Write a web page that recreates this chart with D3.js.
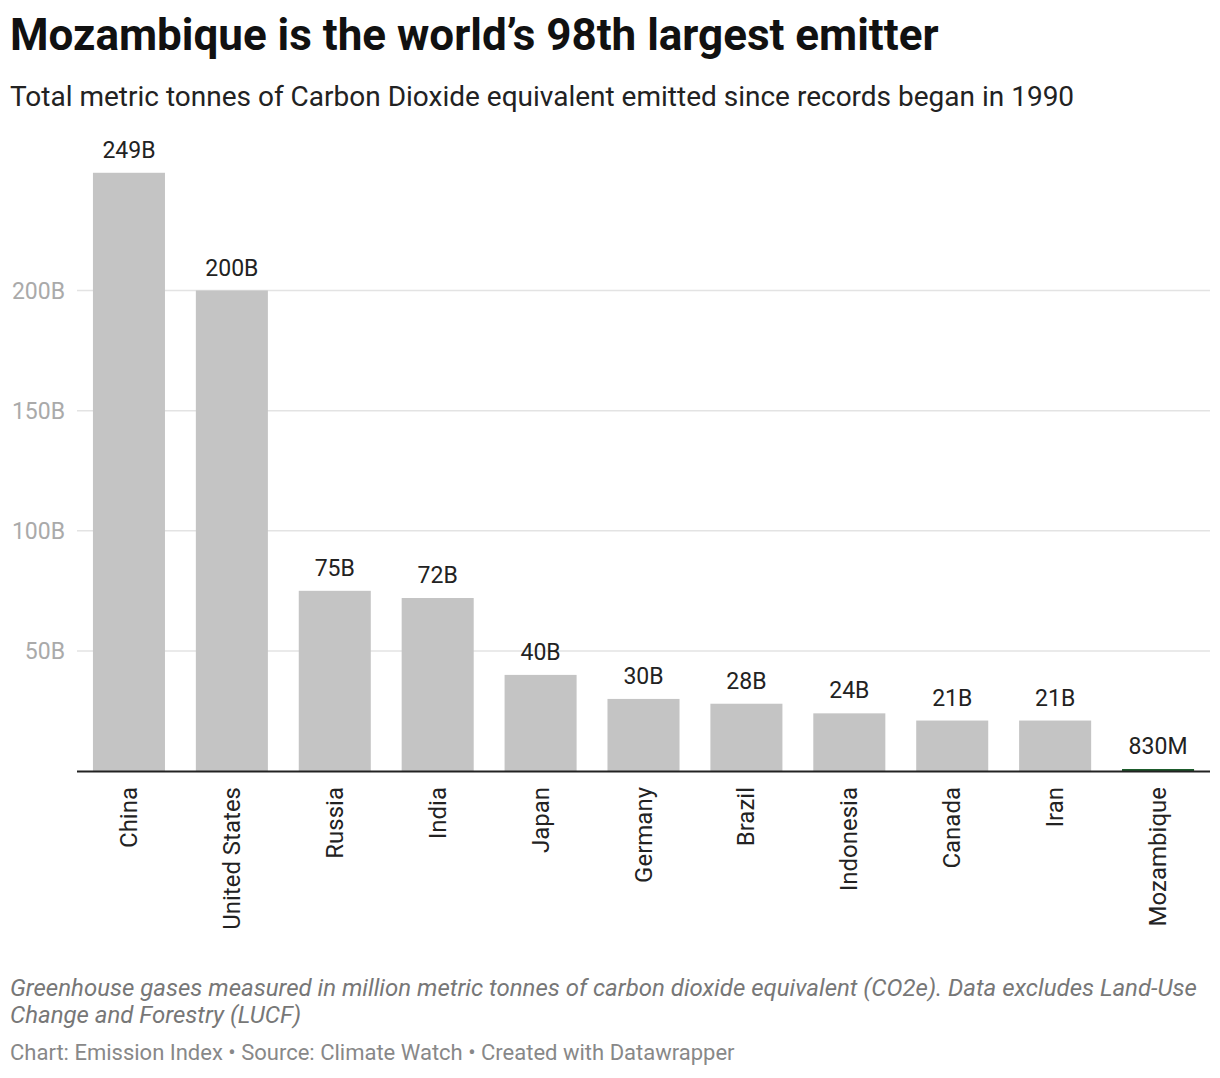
<!DOCTYPE html>
<html><head><meta charset="utf-8">
<script src="https://cdn.jsdelivr.net/npm/d3@7"></script>
<style>
body{margin:0;background:#fff;font-family:Roboto,"Noto Sans",sans-serif;}
</style></head><body>
<svg id="c" width="1220" height="1078"></svg>
<script>
const categories = ["China","United States","Russia","India","Japan","Germany","Brazil","Indonesia","Canada","Iran","Mozambique"];
const values = [249, 200, 75, 72, 40, 30, 28, 24, 21, 21, 0.83]; // billions of tonnes
const valueLabels = ["249B","200B","75B","72B","40B","30B","28B","24B","21B","21B","830M"];
const yTicks = [50, 100, 150, 200];
const yTickLabels = ["50B","100B","150B","200B"];

const svg = d3.select("#c");
svg.append("text").attr("x",10).attr("y",50).attr("font-size",44).attr("font-weight",700).attr("fill","#111")
  .text("Mozambique is the world’s 98th largest emitter");
svg.append("text").attr("x",10).attr("y",106).attr("font-size",28).attr("fill","#222")
  .text("Total metric tonnes of Carbon Dioxide equivalent emitted since records began in 1990");

const x = d3.scaleBand().domain(categories).range([77.5,1209.5]).paddingInner(0.3).paddingOuter(0.15);
const y = d3.scaleLinear().domain([0,200]).range([771,290.5]);

const g = svg.append("g");
g.selectAll("line.grid").data(yTicks).join("line").attr("class","grid")
  .attr("x1",77).attr("x2",1210).attr("y1",d=>y(d)).attr("y2",d=>y(d))
  .attr("stroke","#e3e3e3").attr("stroke-width",1.5);
g.selectAll("text.yt").data(yTicks).join("text").attr("class","yt")
  .attr("x",65).attr("y",d=>y(d)+8).attr("text-anchor","end").attr("font-size",23).attr("fill","#aaa")
  .text((d,i)=>yTickLabels[i]);

g.selectAll("rect.bar").data(values).join("rect").attr("class","bar")
  .attr("x",(d,i)=>x(categories[i])).attr("width",x.bandwidth())
  .attr("y",d=>y(d)).attr("height",d=>y(0)-y(d))
  .attr("fill",(d,i)=>categories[i]==="Mozambique"?"#1d5c2c":"#c4c4c4");

g.selectAll("text.vl").data(values).join("text").attr("class","vl")
  .attr("x",(d,i)=>x(categories[i])+x.bandwidth()/2).attr("y",d=>y(d)-15)
  .attr("text-anchor","middle").attr("font-size",23).attr("fill","#222")
  .text((d,i)=>valueLabels[i]);

g.append("line").attr("x1",77).attr("x2",1210).attr("y1",y(0)+0.5).attr("y2",y(0)+0.5)
  .attr("stroke","#222").attr("stroke-width",2);

g.selectAll("text.cat").data(categories).join("text").attr("class","cat")
  .attr("transform",d=>`translate(${x(d)+x.bandwidth()/2+8},787) rotate(-90)`)
  .attr("text-anchor","end").attr("font-size",24).attr("fill","#222").text(d=>d);

const note = svg.append("g").attr("font-size",24).attr("font-style","italic").attr("fill","#777");
note.append("text").attr("x",10).attr("y",996).text("Greenhouse gases measured in million metric tonnes of carbon dioxide equivalent (CO2e). Data excludes Land-Use");
note.append("text").attr("x",10).attr("y",1023).text("Change and Forestry (LUCF)");
svg.append("text").attr("x",10).attr("y",1060).attr("font-size",22).attr("fill","#888")
  .text("Chart: Emission Index • Source: Climate Watch • Created with Datawrapper");
</script></body></html>
